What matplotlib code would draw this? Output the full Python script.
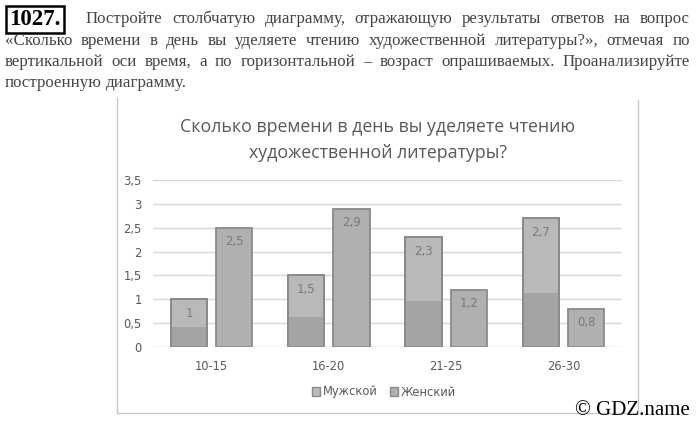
import numpy as np
import matplotlib.pyplot as plt
from matplotlib.patches import Patch

# data
ages = ['10-15', '16-20', '21-25', '26-30']
male = [1, 1.5, 2.3, 2.7]
female = [2.5, 2.9, 1.2, 0.8]
series_names = ['Мужской', 'Женский']
y_ticks = [0, 0.5, 1, 1.5, 2, 2.5, 3, 3.5]

task_no = '1027.'
task_lines = [
    'Постройте столбчатую диаграмму, отражающую результаты ответов на вопрос',
    '«Сколько времени в день вы уделяете чтению художественной литературы?», отмечая по',
    'вертикальной оси время, а по горизонтальной – возраст опрашиваемых. Проанализируйте',
    'построенную диаграмму.',
]
chart_title = 'Сколько времени в день вы уделяете чтению\nхудожественной литературы?'
copyright_text = '© GDZ.name'

W, H = 700, 424
fig = plt.figure(figsize=(W / 100, H / 100), dpi=100)
rend = fig.canvas.get_renderer()


def fy(y):
    return 1 - y / H


def justify(line, x0, x1, y, size, last=False):
    words = line.split(' ')
    objs = [fig.text(0, fy(y), w, fontsize=size, family='Liberation Serif',
                     color='#444444', va='baseline') for w in words]
    widths = [t.get_window_extent(rend).width for t in objs]
    if last or len(words) < 2:
        gap = size * 0.35
    else:
        gap = (x1 - x0 - sum(widths)) / (len(words) - 1)
    x = x0
    for t, w in zip(objs, widths):
        t.set_x(x / W)
        x += w + gap


# header of the task
fig.text(9 / W, fy(25), task_no, fontsize=16.5, fontweight='bold', family='Liberation Serif',
         color='black', va='baseline',
         bbox=dict(boxstyle='square,pad=0.14', fc='white', ec='black', lw=1.8))
justify(task_lines[0], 86, 690, 23, 12.2)
justify(task_lines[1], 5, 690, 45, 12.2)
justify(task_lines[2], 5, 690, 66, 12.2)
justify(task_lines[3], 5, 690, 87, 12.2, last=True)

# frame of the chart
frame_col = '#c8c8c8'
fig.add_artist(plt.Line2D([117 / W, 117 / W], [fy(98), fy(413)], color=frame_col, lw=1))
fig.add_artist(plt.Line2D([117 / W, 638 / W], [fy(413), fy(413)], color=frame_col, lw=1))
fig.add_artist(plt.Line2D([638 / W, 638 / W], [fy(100), fy(413)], color=frame_col, lw=1))

fig.text(378 / W, fy(140), chart_title, ha='center', va='center', multialignment='center',
         fontsize=12.8, family='Open Sans', color='#595959', linespacing=1.6)

ax = fig.add_axes([153 / W, fy(347), 469 / W, 167 / H])
x = np.arange(len(ages))
bw = 0.31
off = 0.193
male_col = '#b9b9b9'
male_dark = '#a4a4a4'
female_col = '#b0b0b0'
edge = '#8a8a8a'

ax.bar(x - off, male, bw, color=male_col, edgecolor=edge, lw=1.3, zorder=2)
ax.bar(x - off, np.array(male) * 0.42, bw, color=male_dark, lw=0, zorder=2.5)
ax.bar(x - off, male, bw, color='none', edgecolor=edge, lw=1.3, zorder=3)
ax.bar(x + off, female, bw, color=female_col, edgecolor=edge, lw=1.3, zorder=2)

for xs, vals in ((x - off, male), (x + off, female)):
    for xi, v in zip(xs, vals):
        ax.annotate(str(v).replace('.', ','), (xi, v), xytext=(0, -10), textcoords='offset points',
                    ha='center', va='center', fontsize=8.5, color='#7a7a7a', zorder=4)

ax.set_xlim(-0.5, len(ages) - 0.5)
ax.set_ylim(0, 3.5)
ax.set_yticks(y_ticks)
ax.set_yticklabels([str(t).replace('.0', '').replace('.', ',') for t in y_ticks])
ax.set_xticks(x)
ax.set_xticklabels(ages)
ax.tick_params(length=0, labelsize=8.3, labelcolor='#595959')
ax.tick_params(axis='x', pad=9)
ax.tick_params(axis='y', pad=8)
ax.grid(axis='y', color='#d6d6d6', lw=1, zorder=0)
ax.set_axisbelow(True)
for s in ax.spines.values():
    s.set_visible(False)

handles = [Patch(fc=male_col, ec=edge), Patch(fc=female_col, ec=edge)]
fig.legend(handles, series_names, loc='center', bbox_to_anchor=(384 / W, fy(392)), ncol=2,
           frameon=False, fontsize=8.3, labelcolor='#595959', handlelength=0.7, handleheight=0.7,
           handletextpad=0.3, columnspacing=1.0)

fig.text(690 / W, fy(415), copyright_text, ha='right', va='baseline', fontsize=15,
         family='Liberation Serif', color='black')

fig.savefig('out.png', dpi=100)
